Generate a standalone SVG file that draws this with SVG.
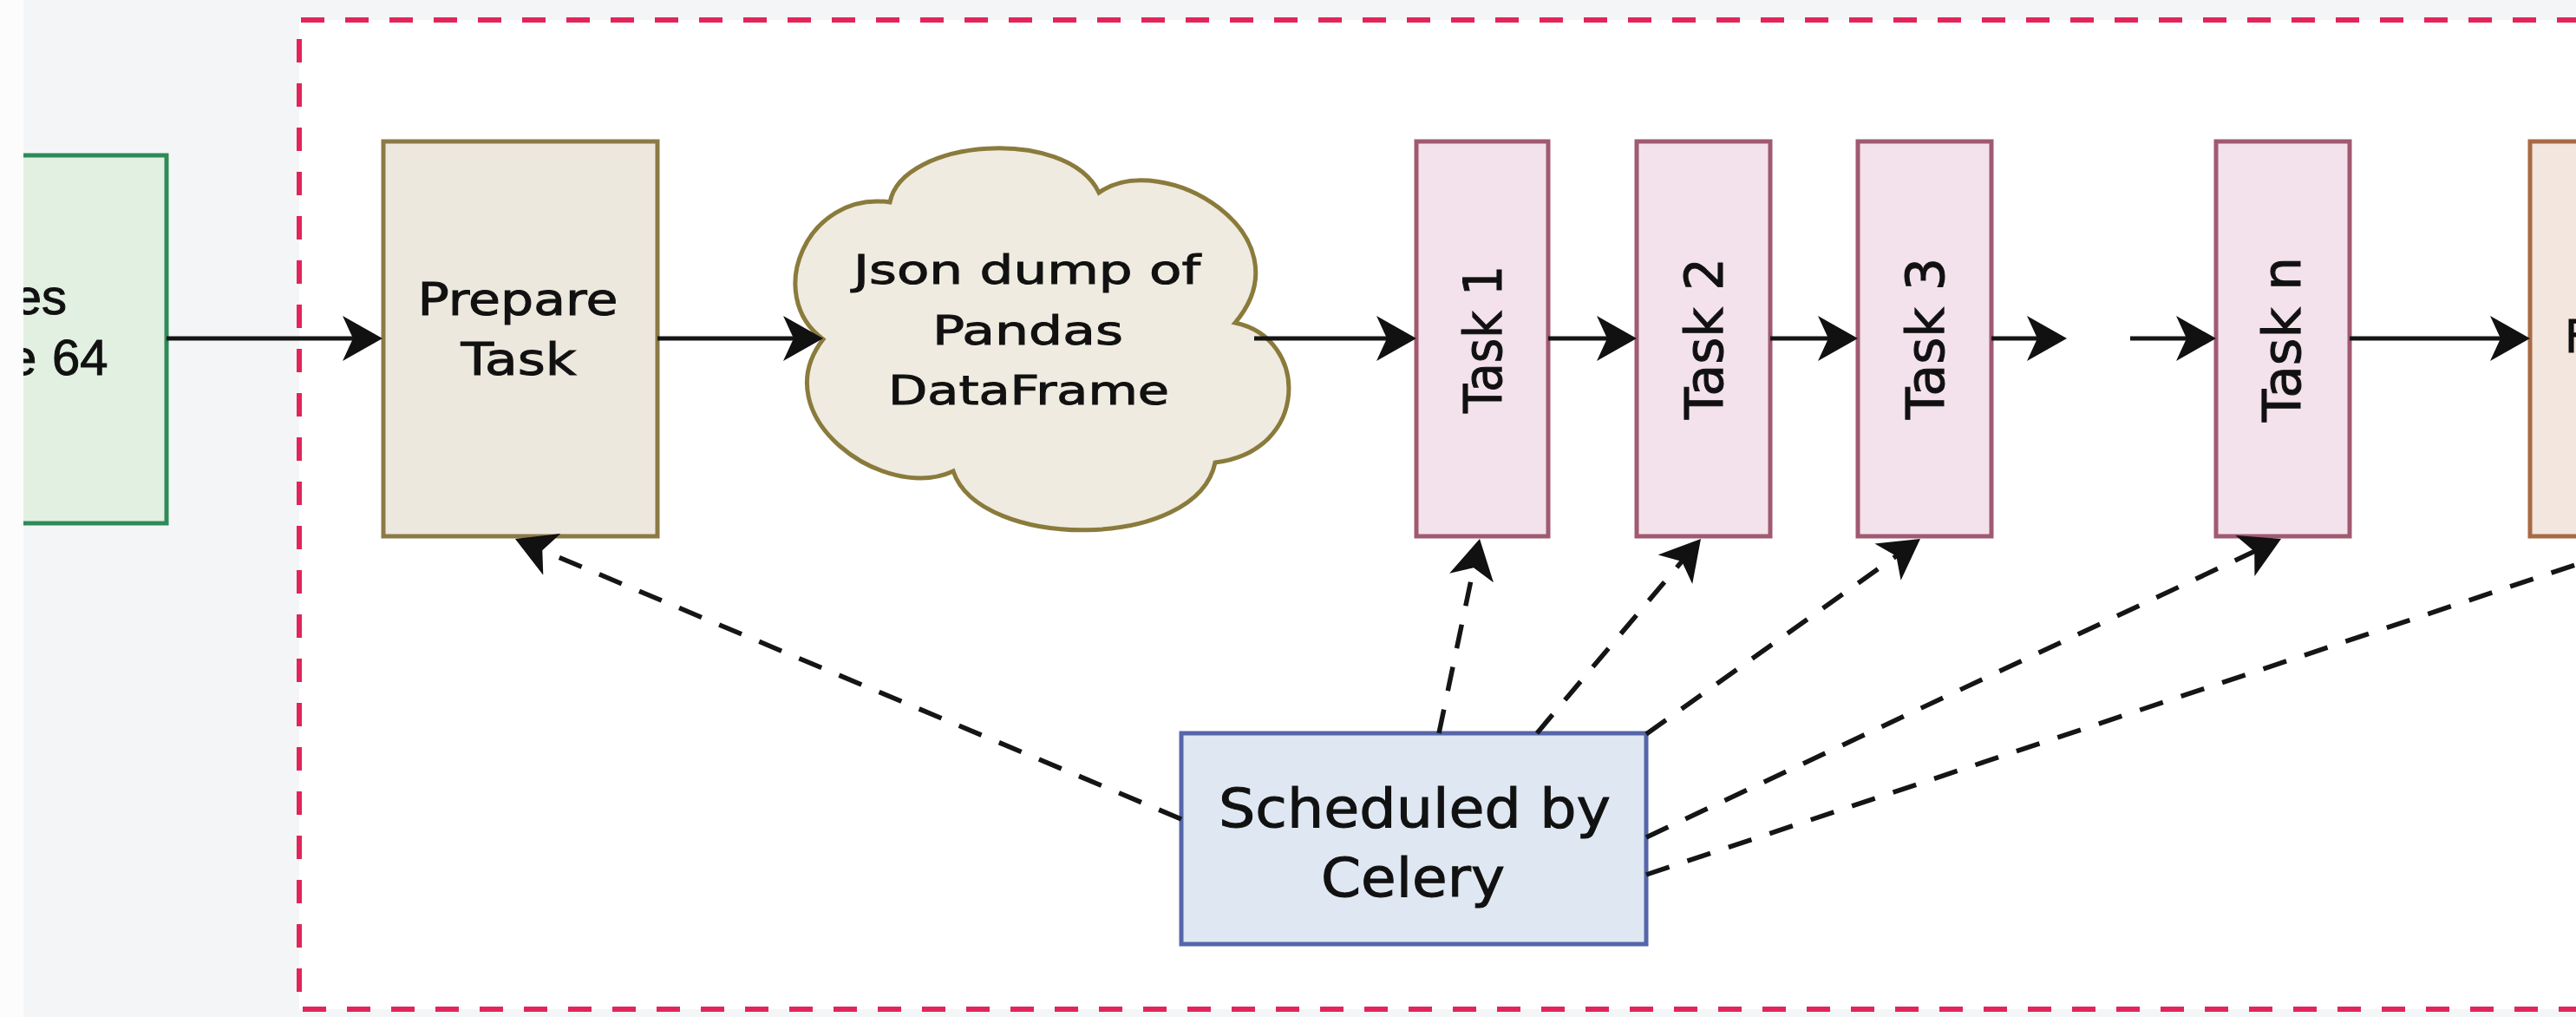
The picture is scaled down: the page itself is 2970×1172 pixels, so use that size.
<svg xmlns="http://www.w3.org/2000/svg" width="2970" height="1172" viewBox="0 0 2970 1172">
  <defs>
    <style>
      .lbl { font-family: "DejaVu Sans", "Liberation Sans", sans-serif; fill: #111; stroke: #111; stroke-width: 1; }
      .arial { font-family: "Liberation Sans", Arial, sans-serif; fill: #111; stroke: #111; stroke-width: 1; }
      .task { fill: #f3e2eb; stroke: #a05a70; stroke-width: 5; }
      .flow { fill: none; stroke: #151515; stroke-width: 5; marker-end: url(#arr); }
      .sched { fill: none; stroke: #151515; stroke-width: 5.5; stroke-dasharray: 28 22; }
      .sched.head { marker-end: url(#arr); }
    </style>
    <marker id="arr" viewBox="0 0 46 52" refX="26" refY="26" markerWidth="46" markerHeight="52" orient="auto" markerUnits="userSpaceOnUse">
      <path d="M0,0 L46,26 L0,52 L12,26 Z" fill="#111"/>
    </marker>
    <clipPath id="leftClip">
      <rect x="27" y="0" width="400" height="1172"/>
    </clipPath>
  </defs>

  <!-- background -->
  <rect x="0" y="0" width="2970" height="1172" fill="#f4f5f7"/>
  <rect x="0" y="0" width="27" height="1172" fill="#fcfcfc"/>
  <rect x="345" y="23" width="2630" height="1140" fill="#ffffff"/>
  <path d="M2975,23 H345 V1163 H2975" fill="none" stroke="#e3245b" stroke-width="6" stroke-dasharray="27 24"/>

  <!-- nodes -->
  <g id="node-source" clip-path="url(#leftClip)">
    <rect x="-20" y="179" width="212" height="424" fill="#e2f0e2" stroke="#2e8b57" stroke-width="5"/>
    <text class="arial" x="77" y="362" font-size="58" text-anchor="end">es</text>
    <text class="arial" font-size="58" y="432"><tspan x="10">e </tspan><tspan x="60">64</tspan></text>
  </g>

  <g id="node-prepare">
    <rect x="442" y="163" width="316" height="455" fill="#ede8de" stroke="#8b7a45" stroke-width="5"/>
    <text class="lbl" x="597" y="363" font-size="51" text-anchor="middle" textLength="231" lengthAdjust="spacingAndGlyphs">Prepare</text>
    <text class="lbl" x="598" y="432" font-size="51" text-anchor="middle" textLength="133" lengthAdjust="spacingAndGlyphs">Task</text>
  </g>

  <g id="node-json">
    <path d="M1026,233 C1040,160 1230,145 1267,222 C1340,170 1510,270 1424,372 C1510,390 1510,520 1401,533 C1380,635 1130,635 1099,543 C1020,580 880,480 949,391 C880,340 930,220 1026,233 Z" fill="#efebe0" stroke="#8a7b3c" stroke-width="5"/>
    <text class="lbl" x="1184" y="327" font-size="47" text-anchor="middle" textLength="400" lengthAdjust="spacingAndGlyphs">Json dump of</text>
    <text class="lbl" x="1185" y="397" font-size="47" text-anchor="middle" textLength="220" lengthAdjust="spacingAndGlyphs">Pandas</text>
    <text class="lbl" x="1186" y="466" font-size="47" text-anchor="middle" textLength="324" lengthAdjust="spacingAndGlyphs">DataFrame</text>
  </g>

  <g id="node-task1">
    <rect class="task" x="1633" y="163" width="152" height="455"/>
    <text class="lbl" transform="translate(1731,391) rotate(-90)" font-size="60" text-anchor="middle" textLength="170" lengthAdjust="spacingAndGlyphs">Task 1</text>
  </g>
  <g id="node-task2">
    <rect class="task" x="1887" y="163" width="154" height="455"/>
    <text class="lbl" transform="translate(1986,390) rotate(-90)" font-size="60" text-anchor="middle" textLength="186" lengthAdjust="spacingAndGlyphs">Task 2</text>
  </g>
  <g id="node-task3">
    <rect class="task" x="2142" y="163" width="154" height="455"/>
    <text class="lbl" transform="translate(2241,390) rotate(-90)" font-size="60" text-anchor="middle" textLength="186" lengthAdjust="spacingAndGlyphs">Task 3</text>
  </g>
  <g id="node-taskn">
    <rect class="task" x="2555" y="163" width="154" height="455"/>
    <text class="lbl" transform="translate(2652,391) rotate(-90)" font-size="60" text-anchor="middle" textLength="190" lengthAdjust="spacingAndGlyphs">Task n</text>
  </g>

  <g id="node-final">
    <rect x="2917" y="163" width="100" height="455" fill="#f2e6de" stroke="#a86a44" stroke-width="5"/>
    <text class="lbl" x="2957" y="406" font-size="51">F</text>
  </g>

  <g id="node-celery">
    <rect x="1362" y="845" width="536" height="243" fill="#dfe8f2" stroke="#5566aa" stroke-width="5"/>
    <text class="lbl" x="1631" y="953" font-size="63" text-anchor="middle" textLength="452" lengthAdjust="spacingAndGlyphs">Scheduled by</text>
    <text class="lbl" x="1629" y="1033" font-size="63" text-anchor="middle" textLength="212" lengthAdjust="spacingAndGlyphs">Celery</text>
  </g>

  <!-- connectors -->
  <g id="connectors">
    <path class="flow" d="M192,390 H421"/>
    <path class="flow" d="M758,390 H929"/>
    <path class="flow" d="M1446,390 H1613"/>
    <path class="flow" d="M1785,390 H1867"/>
    <path class="flow" d="M2041,390 H2122"/>
    <path class="flow" d="M2296,390 H2363"/>
    <path class="flow" d="M2456,390 H2535"/>
    <path class="flow" d="M2709,390 H2897"/>

    <path class="sched head" d="M1362,944 L612.4,628.8"/>
    <path class="sched head" d="M1659,845 L1701.9,640.6"/>
    <path class="sched head" d="M1772,845 L1948.1,636.3"/>
    <path class="sched head" d="M1898,846 L2197.7,632.6"/>
    <path class="sched head" d="M1898,965 L2611.9,629.5"/>
    <path class="sched" d="M1898,1008 L2975,649"/>
  </g>
</svg>
